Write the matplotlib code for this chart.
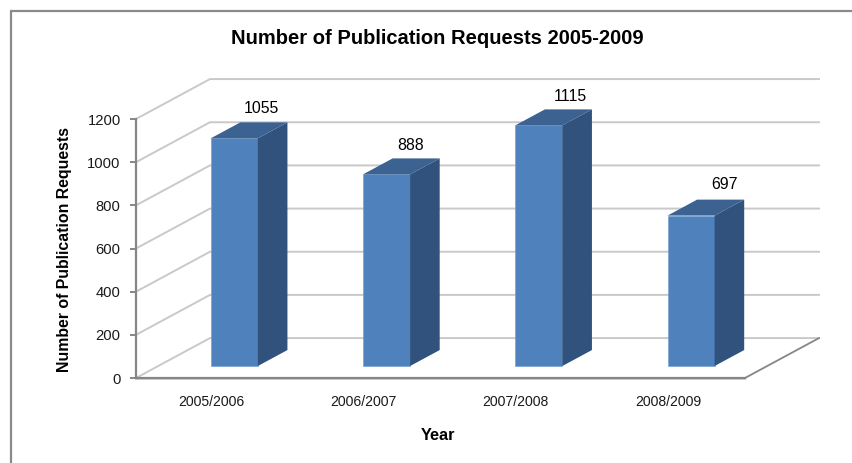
import matplotlib
matplotlib.use("Agg")
import matplotlib.pyplot as plt
from matplotlib.lines import Line2D
from matplotlib.transforms import ScaledTranslation

plt.rcParams["font.family"] = ["Liberation Sans", "DejaVu Sans"]

# Chart data
years = ["2005/2006", "2006/2007", "2007/2008", "2008/2009"]
requests = [1055, 888, 1115, 697]
y_ticks = [0, 200, 400, 600, 800, 1000, 1200]

# Oblique projection: how far the rear of the floor sits from the front edge
DEPTH_X = 0.486     # category units
DEPTH_Y = 185.0     # value units
BAR_WIDTH = 0.309
BAR_NEAR = 0.30     # depth fractions occupied by each bar
BAR_FAR = 0.70

FRONT = "#4f81bd"
SIDE = "#30527c"
TOP = "#3b6291"
GRID = "#c9c9c9"
AXIS = "#868686"

# Hand-placed value labels, relative to each bar's front-left corner
label_dx = [0.335, 0.31, 0.36, 0.375]
label_dy = [139, 135, 133, 143]

W, H = 852, 463
fig = plt.figure(figsize=(W / 100, H / 100), dpi=100, facecolor="white")
ax = fig.add_axes([136 / W, 1 - 378 / H, (745 - 136) / W, (378 - 119) / H])
ax.set_xlim(-0.5, 3.5)
ax.set_ylim(0, 1200)
ax.patch.set_visible(False)
for spine in ax.spines.values():
    spine.set_visible(False)

x_left, x_right = -0.5, 3.5

# Walls: each gridline runs back along the side wall, then across the rear wall
for v in y_ticks:
    if v == 0:
        continue
    ax.plot([x_left, x_left + DEPTH_X, x_right + DEPTH_X],
            [v, v + DEPTH_Y, v + DEPTH_Y],
            color=GRID, lw=1.4, clip_on=False, zorder=1, solid_joinstyle="miter")

# Floor outline
ax.plot([x_left, x_left + DEPTH_X, x_right + DEPTH_X],
        [0, DEPTH_Y, DEPTH_Y], color=GRID, lw=1.4, clip_on=False, zorder=1)
ax.plot([x_right, x_right + DEPTH_X], [0, DEPTH_Y],
        color=AXIS, lw=1.3, clip_on=False, zorder=1)
ax.plot([x_left, x_right], [-3, -3], color=GRID, lw=1.2, clip_on=False, zorder=1)
ax.plot([x_left, x_right], [0, 0], color=AXIS, lw=1.6, clip_on=False, zorder=2)

# Value axis with outward ticks
ax.plot([x_left, x_left], [0, 1200], color=AXIS, lw=1.6, clip_on=False, zorder=2)
ax.set_yticks(y_ticks)
ax.set_xticks(range(len(years)))
ax.set_xticklabels(years)
ax.tick_params(axis="y", length=4, width=1.4, color=AXIS, pad=7,
               labelsize=10.6, labelcolor="#1a1a1a")
ax.tick_params(axis="x", length=0, pad=12.5, labelsize=10.1, labelcolor="#1a1a1a")

# Nudge the category labels one pixel to the left
nudge = ScaledTranslation(-1 / 100, 0, fig.dpi_scale_trans)
for tick_label in ax.get_xticklabels():
    tick_label.set_transform(tick_label.get_transform() + nudge)

# Bars drawn as three faces in oblique projection
near_dx = BAR_NEAR * DEPTH_X
far_dx = BAR_FAR * DEPTH_X
near_dy = BAR_NEAR * DEPTH_Y
far_dy = BAR_FAR * DEPTH_Y

for i, value in enumerate(requests):
    left = i - BAR_WIDTH / 2 + near_dx
    right = left + BAR_WIDTH
    base = near_dy
    ax.bar(left, value, width=BAR_WIDTH, bottom=base, align="edge",
           color=FRONT, edgecolor="#6f9bd0", linewidth=0.4, clip_on=False, zorder=4)
    side_dx = far_dx - near_dx
    side_dy = far_dy - near_dy
    ax.fill([right, right + side_dx, right + side_dx, right],
            [base, base + side_dy, base + value + side_dy, base + value],
            color=SIDE, lw=0, clip_on=False, zorder=4)
    ax.fill([left, left + side_dx, right + side_dx, right],
            [base + value, base + value + side_dy, base + value + side_dy, base + value],
            color=TOP, lw=0, clip_on=False, zorder=4)
    ax.text(left + label_dx[i], base + value + label_dy[i], str(value),
            ha="center", va="center", fontsize=11.4, color="black",
            clip_on=False, zorder=5)

# Titles
fig.text(437.5 / W, 1 - 38.5 / H, "Number of Publication Requests 2005-2009",
         ha="center", va="center", fontsize=14.5, fontweight="bold", color="black")
fig.text(65 / W, 1 - 249 / H, "Number of Publication Requests", rotation=90,
         ha="center", va="center", fontsize=11.4, fontweight="bold", color="black")
fig.text(438.5 / W, 1 - 436 / H, "Year",
         ha="center", va="center", fontsize=11.8, fontweight="bold", color="black")

# Chart-area border along the left and top edges
fig.add_artist(Line2D([11 / W, 11 / W, 1], [0, 1 - 11 / H, 1 - 11 / H],
                      color="#8a8a8a", lw=1.6, transform=fig.transFigure,
                      solid_joinstyle="miter"))

fig.savefig("out.png", dpi=100, facecolor="white")
